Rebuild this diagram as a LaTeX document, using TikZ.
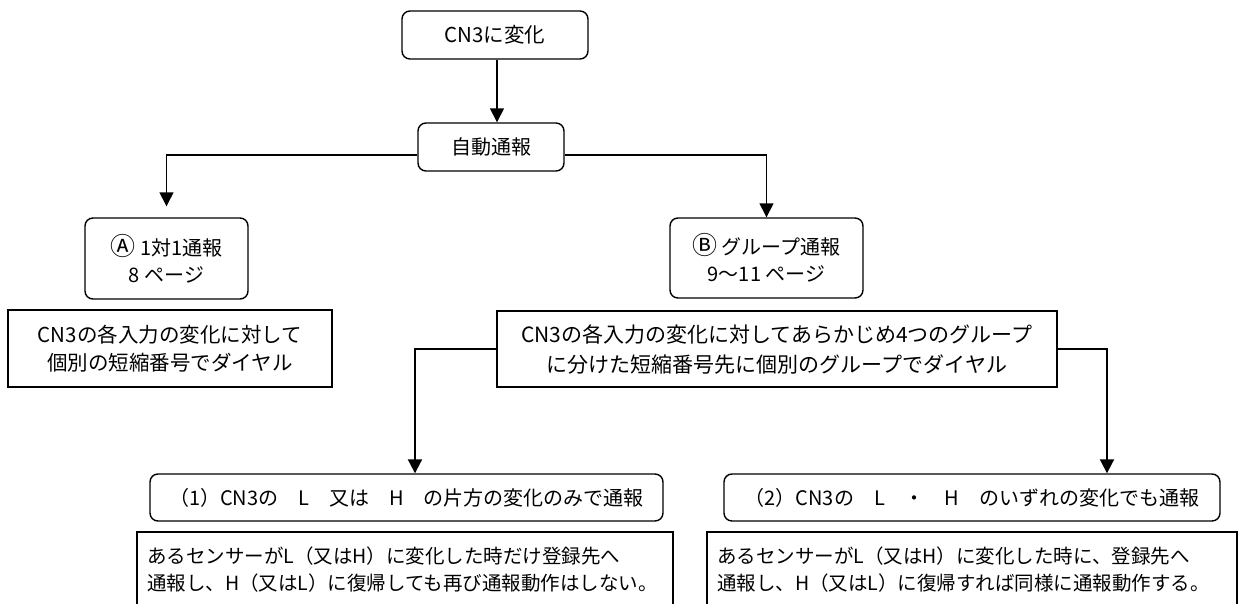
\documentclass[tikz,border=0pt]{standalone}
\usepackage{fontspec}
\setmainfont{Noto Sans CJK JP}
\usetikzlibrary{arrows.meta}
\newcommand{\circA}{{\fontsize{25}{28}\selectfont Ⓐ}}
\newcommand{\circB}{{\fontsize{25}{28}\selectfont Ⓑ}}
\begin{document}
\begin{tikzpicture}[x=1pt,y=-1pt,
  every node/.style={font=\fontsize{20}{27}\selectfont, inner sep=0pt, align=center},
  rbox/.style={draw, line width=1.4pt, rounded corners=8pt},
  sbox/.style={draw, line width=1.4pt},
  arr/.style={line width=1.4pt, -{Triangle[length=14pt,width=14pt]}},
  arrb/.style={line width=2pt, -{Triangle[length=14pt,width=14pt]}}]
\useasboundingbox (0,0) rectangle (1240,603);
\clip (0,0) rectangle (1240,603);
\node[rbox, minimum width=186pt, minimum height=48pt, font=\fontsize{20.5}{27}\selectfont] (top) at (495,35) {CN3に変化};
\node[rbox, minimum width=146pt, minimum height=48pt] (auto) at (491,147) {自動通報};
\node[rbox, minimum width=163pt, minimum height=81pt] (A) at (166.5,258.5) {\circA\ 1対1通報\\8 ページ};
\node[rbox, minimum width=193pt, minimum height=80pt] (B) at (766.5,258) {\circB\ グループ通報\\9～11 ページ};
\node[sbox, minimum width=324pt, minimum height=77pt, font=\fontsize{20.5}{28}\selectfont] (Lbox) at (170,348.5) {CN3の各入力の変化に対して\\個別の短縮番号でダイヤル};
\node[sbox, minimum width=560pt, minimum height=76pt, font=\fontsize{21}{30}\selectfont] (big) at (777,349) {CN3の各入力の変化に対してあらかじめ4つのグループ\\に分けた短縮番号先に個別のグループでダイヤル};
\node[rbox, minimum width=513pt, minimum height=47pt] (one) at (406.5,497.5) {（1）CN3の　L　又は　H　の片方の変化のみで通報};
\node[rbox, minimum width=496pt, minimum height=47pt] (two) at (972,497.5) {（2）CN3の　L　・　H　のいずれの変化でも通報};
\node[sbox, minimum width=536pt, minimum height=75pt, align=left, text width=516pt, font=\fontsize{19.5}{27}\selectfont] (b1) at (405,569.5) {あるセンサーがL（又はH）に変化した時だけ登録先へ\\通報し、H（又はL）に復帰しても再び通報動作はしない。};
\node[sbox, minimum width=530pt, minimum height=75pt, align=left, text width=510pt, font=\fontsize{19.5}{27}\selectfont] (b2) at (972,569.5) {あるセンサーがL（又はH）に変化した時に、登録先へ\\通報し、H（又はL）に復帰すれば同様に通報動作する。};
\draw[arr] ([xshift=2pt]top.south) -- ([xshift=2pt]top.south |- auto.north);
\draw[arr, shorten >=11pt] ([yshift=-8pt]auto.west) -| (A.north);
\draw[arr] ([yshift=-8pt]auto.east) -| (B.north);
\draw[arrb] (big.west) -| ([xshift=8.5pt]one.north);
\draw[arrb] (big.east) -| ([xshift=135pt]two.north);
\end{tikzpicture}
\end{document}
